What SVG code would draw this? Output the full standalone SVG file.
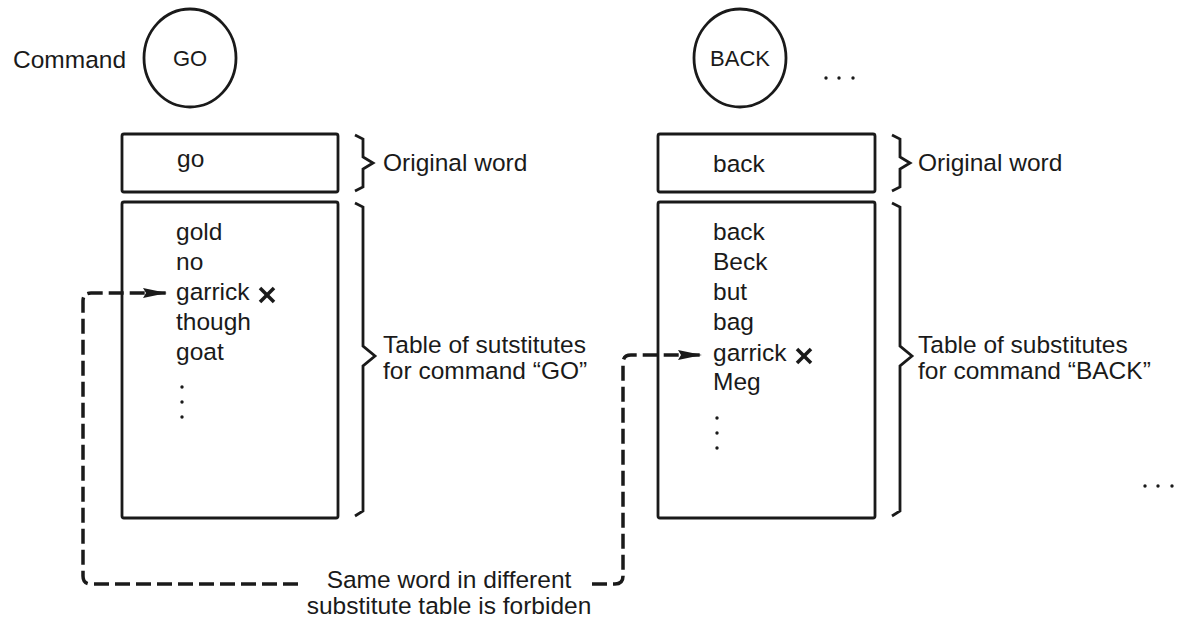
<svg xmlns="http://www.w3.org/2000/svg" width="1177" height="619" viewBox="0 0 1177 619">
  <style>
    .t { font-family: "Liberation Sans", Arial, sans-serif; font-size: 24.5px; fill: #1a1a1a; }
    .cmd { font-family: "Liberation Sans", Arial, sans-serif; font-size: 22px; fill: #1a1a1a; text-anchor: middle; }
    .box { fill: none; stroke: #1a1a1a; stroke-width: 2.8; }
    .brace { fill: none; stroke: #1a1a1a; stroke-width: 2.8; stroke-linejoin: miter; }
    .cross { stroke: #1a1a1a; stroke-width: 3.5; stroke-linecap: butt; }
    .dash { fill: none; stroke: #1a1a1a; stroke-width: 3.5; stroke-dasharray: 15 6; }
    .dot { fill: #1a1a1a; }
  </style>
  <defs>
    <marker id="arrow" markerUnits="userSpaceOnUse" markerWidth="26" markerHeight="12" refX="24" refY="6" orient="auto">
      <path d="M0,1 L24,6 L0,11 L3,6 Z" fill="#1a1a1a"/>
    </marker>
  </defs>

  <rect width="1177" height="619" fill="#ffffff"/>

  <!-- label for the command row -->
  <text class="t" x="13" y="68">Command</text>

  <!-- command GO -->
  <g id="cmd-go">
    <ellipse class="box" cx="190" cy="58" rx="46" ry="49"/>
    <text class="cmd" x="190" y="66">GO</text>
  </g>

  <!-- command BACK -->
  <g id="cmd-back">
    <ellipse class="box" cx="740" cy="58" rx="46" ry="49"/>
    <text class="cmd" x="740" y="66">BACK</text>
  </g>

  <g id="more-commands">
    <circle class="dot" cx="826" cy="78" r="1.7"/>
    <circle class="dot" cx="839" cy="78" r="1.7"/>
    <circle class="dot" cx="853" cy="78" r="1.7"/>
  </g>

  <!-- GO column -->
  <g id="orig-go">
    <rect class="box" x="122" y="134" width="216" height="58" rx="2"/>
    <text class="t" x="177" y="167">go</text>
  </g>
  <g id="table-go">
    <rect class="box" x="122" y="202" width="216" height="316" rx="2"/>
    <text class="t" x="176" y="240">gold</text>
    <text class="t" x="176" y="270">no</text>
    <text class="t" x="176" y="300">garrick</text>
    <line class="cross" x1="260" y1="288" x2="274" y2="302"/>
    <line class="cross" x1="274" y1="288" x2="260" y2="302"/>
    <text class="t" x="176" y="330">though</text>
    <text class="t" x="176" y="360">goat</text>
    <circle class="dot" cx="182" cy="387" r="1.7"/>
    <circle class="dot" cx="182" cy="402" r="1.7"/>
    <circle class="dot" cx="182" cy="417" r="1.7"/>
  </g>
  <g id="label-orig-go">
    <path class="brace" d="M355,135 L363,139 V157 L373,163 L363,169 V187 L355,191"/>
    <text class="t" x="383" y="171">Original word</text>
  </g>
  <g id="label-table-go">
    <path class="brace" d="M355,203 L363,207 V346 L375,356 L363,366 V511 L355,516"/>
    <text class="t" x="383" y="353">Table of sutstitutes</text>
    <text class="t" x="383" y="379">for command “GO”</text>
  </g>

  <!-- BACK column -->
  <g id="orig-back">
    <rect class="box" x="658" y="134" width="217" height="58" rx="2"/>
    <text class="t" x="713" y="172">back</text>
  </g>
  <g id="table-back">
    <rect class="box" x="658" y="202" width="217" height="316" rx="2"/>
    <text class="t" x="713" y="240">back</text>
    <text class="t" x="713" y="270">Beck</text>
    <text class="t" x="713" y="300">but</text>
    <text class="t" x="713" y="330">bag</text>
    <text class="t" x="713" y="361">garrick</text>
    <line class="cross" x1="797" y1="349" x2="811" y2="363"/>
    <line class="cross" x1="811" y1="349" x2="797" y2="363"/>
    <text class="t" x="713" y="390">Meg</text>
    <circle class="dot" cx="717" cy="418" r="1.7"/>
    <circle class="dot" cx="717" cy="433" r="1.7"/>
    <circle class="dot" cx="717" cy="448" r="1.7"/>
  </g>
  <g id="label-orig-back">
    <path class="brace" d="M892,135 L900,139 V157 L910,163 L900,169 V187 L892,191"/>
    <text class="t" x="918" y="171">Original word</text>
  </g>
  <g id="label-table-back">
    <path class="brace" d="M892,203 L900,207 V346 L912,356 L900,366 V511 L892,516"/>
    <text class="t" x="918" y="353">Table of substitutes</text>
    <text class="t" x="918" y="379">for command “BACK”</text>
  </g>

  <g id="more-columns">
    <circle class="dot" cx="1145" cy="486" r="1.7"/>
    <circle class="dot" cx="1158" cy="486" r="1.7"/>
    <circle class="dot" cx="1172" cy="486" r="1.7"/>
  </g>

  <!-- rule note -->
  <g id="note">
    <text class="t" x="449" y="588" text-anchor="middle">Same word in different</text>
    <text class="t" x="449" y="614" text-anchor="middle">substitute table is forbiden</text>
  </g>

  <!-- dashed connectors from the note to the duplicated entries -->
  <g id="connectors">
    <path class="dash" d="M298,584 H91 Q83,584 83,576 V301 Q83,293 91,293 H167" marker-end="url(#arrow)"/>
    <path class="dash" d="M592,584 H615 Q623,584 623,576 V363 Q623,355 631,355 H702" marker-end="url(#arrow)"/>
  </g>
</svg>
